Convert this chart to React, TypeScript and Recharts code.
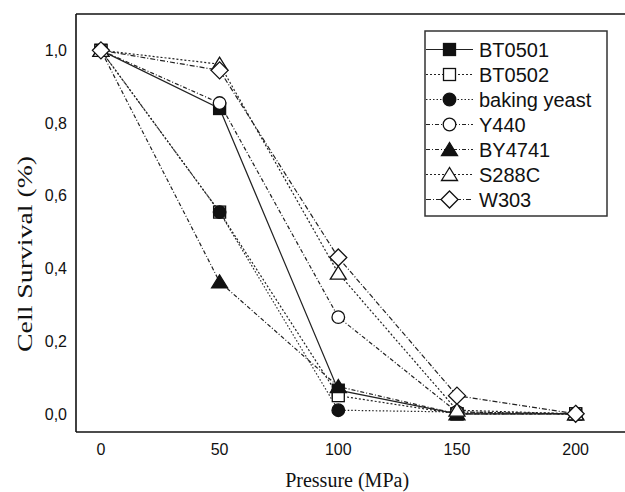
import React from 'react';
import { LineChart, Line, XAxis, YAxis, Legend } from 'recharts';

// ---- data ----
const pressures = [0, 50, 100, 150, 200];
const bt0501 = [1.0, 0.84, 0.065, 0.0, 0.0];
const bt0502 = [1.0, 0.555, 0.05, 0.0, 0.0];
const bakingYeast = [1.0, 0.555, 0.01, 0.005, 0.0];
const y440 = [1.0, 0.855, 0.266, 0.005, 0.0];
const by4741 = [1.0, 0.363, 0.075, 0.0, 0.0];
const s288c = [1.0, 0.962, 0.387, 0.01, 0.0];
const w303 = [1.0, 0.945, 0.43, 0.05, 0.0];
const seriesNames = ['BT0501', 'BT0502', 'baking yeast', 'Y440', 'BY4741', 'S288C', 'W303'];
const seriesValues = [bt0501, bt0502, bakingYeast, y440, by4741, s288c, w303];
const xMajorTicks = [0, 50, 100, 150, 200];
const xMinorTicks = [25, 75, 125, 175, 225];
const yMajorTicks = [0, 0.2, 0.4, 0.6, 0.8, 1.0];
const yMinorTicks = [0.1, 0.3, 0.5, 0.7, 0.9];

// ---- styles ----
const shapes = ['square', 'square', 'circle', 'circle', 'triangle', 'triangle', 'diamond'];
const filledFlags = [true, false, true, false, true, false, false];
const dashes = ['', '2 2', '1.5 2', '4 2 1 2', '4 2 1 2', '2 2', '5 2 1 2'];

const data = pressures.map((p, i) => {
  const row: Record<string, number> = { p };
  seriesNames.forEach((n, k) => {
    row[n] = seriesValues[k][i];
  });
  return row;
});

const INK = '#111';
const SANS = '"Liberation Sans", Arial, Helvetica, sans-serif';
const SERIF = '"Liberation Serif", "Times New Roman", serif';

function Marker({ cx, cy, shape, filled }: { cx: number; cy: number; shape: string; filled: boolean }) {
  const fill = filled ? INK : '#fff';
  const common = { fill, stroke: INK, strokeWidth: 1.3 };
  if (cx == null || cy == null) return null;
  switch (shape) {
    case 'square':
      return <rect x={cx - 6} y={cy - 6} width={12} height={12} {...common} />;
    case 'circle':
      return <circle cx={cx} cy={cy} r={6.3} {...common} />;
    case 'triangle':
      return (
        <polygon
          points={`${cx},${cy - 7} ${cx - 8},${cy + 6} ${cx + 8},${cy + 6}`}
          {...common}
        />
      );
    case 'diamond':
      return (
        <polygon
          points={`${cx},${cy - 8.5} ${cx + 8.5},${cy} ${cx},${cy + 8.5} ${cx - 8.5},${cy}`}
          {...common}
        />
      );
    default:
      return null;
  }
}

const renderLegend = () => (
  <svg width={186} height={190} style={{ display: 'block' }}>
    <rect x={1} y={1} width={182} height={185} fill="#fff" stroke="#333" strokeWidth={1.5} />
    {seriesNames.map((name, i) => {
      const cy = 19.5 + i * 25;
      return (
        <g key={name}>
          <line
            x1={2}
            x2={49}
            y1={cy}
            y2={cy}
            stroke="#222"
            strokeWidth={1.2}
            strokeDasharray={dashes[i] || undefined}
          />
          <Marker cx={25.5} cy={cy} shape={shapes[i]} filled={filledFlags[i]} />
          <text x={55} y={cy} dy="0.36em" fontSize={20} fontFamily={SANS} fill={INK}>
            {name}
          </text>
        </g>
      );
    })}
  </svg>
);

const fmtY = (v: number) => v.toFixed(1).replace('.', ',');

const YTitle = (props: any) => {
  const vb = props.viewBox || { x: 0, y: 0, width: 0, height: 0 };
  const cx = vb.x + 25;
  const cy = vb.y + vb.height * 0.574;
  return (
    <text
      x={cx}
      y={cy}
      transform={`rotate(-90, ${cx}, ${cy})`}
      textAnchor="middle"
      dy="0.35em"
      fontSize={20}
      fontFamily={SERIF}
      fill={INK}
      textLength={196}
      lengthAdjust="spacingAndGlyphs"
    >
      Cell Survival (%)
    </text>
  );
};

const XTitle = (props: any) => {
  const vb = props.viewBox || { x: 0, y: 0, width: 0, height: 0 };
  const cx = vb.x + vb.width * 0.485;
  return (
    <text x={cx} y={vb.y + 55} textAnchor="middle" fontSize={20} fontFamily={SERIF} fill={INK}>
      Pressure (MPa)
    </text>
  );
};

export default function App() {
  const xDomain: [number, number] = [-10.5, 225];
  const yDomain: [number, number] = [-0.05, 1.1];
  return (
    <div
      style={{
        position: 'absolute',
        left: 0,
        top: 0,
        width: 625,
        height: 492,
        overflow: 'hidden',
        background: '#fff',
      }}
    >
      <LineChart width={640} height={492} data={data} margin={{ top: 14, right: 5, bottom: 0, left: 0 }}>
        {/* labelled axes */}
        <XAxis
          xAxisId="b"
          dataKey="p"
          type="number"
          domain={xDomain}
          ticks={xMajorTicks}
          allowDataOverflow
          height={60}
          tickLine={false}
          tickSize={0}
          tickMargin={12}
          axisLine={{ stroke: INK, strokeWidth: 1.6 }}
          tick={{ fontSize: 16, fontFamily: SANS, fill: INK }}
          label={<XTitle />}
        />
        <YAxis
          yAxisId="l"
          type="number"
          domain={yDomain}
          ticks={yMajorTicks}
          allowDataOverflow
          width={76}
          tickLine={false}
          tickSize={0}
          tickMargin={9}
          tickFormatter={fmtY}
          axisLine={{ stroke: INK, strokeWidth: 1.6 }}
          tick={{ fontSize: 16, fontFamily: SANS, fill: INK }}
          label={<YTitle />}
        />
        {/* inward tick marks */}
        <XAxis xAxisId="bMaj" type="number" domain={xDomain} ticks={xMajorTicks} allowDataOverflow mirror
          axisLine={false} tick={false} tickSize={8} tickLine={{ stroke: INK, strokeWidth: 1.5 }} />
        <XAxis xAxisId="bMin" type="number" domain={xDomain} ticks={xMinorTicks} allowDataOverflow mirror
          axisLine={false} tick={false} tickSize={5} tickLine={{ stroke: INK, strokeWidth: 1.3 }} />
        <XAxis xAxisId="tMaj" orientation="top" type="number" domain={xDomain} ticks={xMajorTicks} allowDataOverflow mirror
          axisLine={{ stroke: INK, strokeWidth: 1.6 }} tick={false} tickSize={8} tickLine={{ stroke: INK, strokeWidth: 1.5 }} />
        <XAxis xAxisId="tMin" orientation="top" type="number" domain={xDomain} ticks={xMinorTicks} allowDataOverflow mirror
          axisLine={false} tick={false} tickSize={5} tickLine={{ stroke: INK, strokeWidth: 1.3 }} />
        <YAxis yAxisId="lMaj" type="number" domain={yDomain} ticks={yMajorTicks} allowDataOverflow mirror
          axisLine={false} tick={false} tickSize={8} tickLine={{ stroke: INK, strokeWidth: 1.5 }} />
        <YAxis yAxisId="lMin" type="number" domain={yDomain} ticks={yMinorTicks} allowDataOverflow mirror
          axisLine={false} tick={false} tickSize={5} tickLine={{ stroke: INK, strokeWidth: 1.3 }} />

        {seriesNames.map((name, i) => (
          <Line
            key={name}
            xAxisId="b"
            yAxisId="l"
            dataKey={name}
            type="linear"
            stroke="#222"
            strokeWidth={1.2}
            strokeDasharray={dashes[i] || undefined}
            isAnimationActive={false}
            dot={(p: any) => (
              <Marker key={`${name}-${p.index}`} cx={p.cx} cy={p.cy} shape={shapes[i]} filled={filledFlags[i]} />
            )}
            activeDot={false}
          />
        ))}

        <Legend
          content={renderLegend}
          layout="vertical"
          align="center"
          verticalAlign="middle"
          wrapperStyle={{ left: 424, top: 30, width: 186, height: 190, right: 'auto', bottom: 'auto' }}
        />
      </LineChart>
    </div>
  );
}
